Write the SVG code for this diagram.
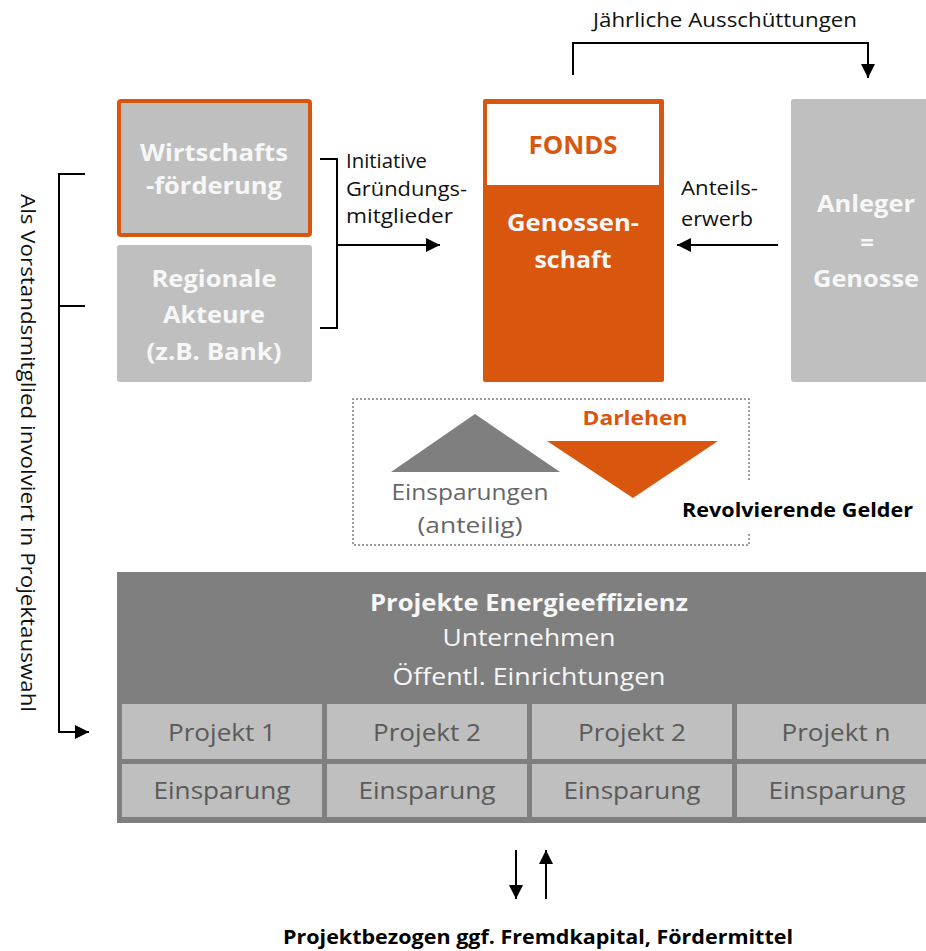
<svg xmlns="http://www.w3.org/2000/svg" width="926" height="951" viewBox="0 0 926 951">
<defs>
<marker id="ah" markerUnits="userSpaceOnUse" markerWidth="15" markerHeight="15" refX="14" refY="7.5" orient="auto">
<path d="M0,0.5 L14,7.5 L0,14.5 z" fill="#000"/>
</marker>
<style>
text{font-family:"Open Sans","Noto Sans","Liberation Sans",sans-serif;}
.b{font-weight:bold;}
.lbl{font-size:20px;fill:#111;}
.box{font-size:24px;font-weight:bold;fill:#f7f7f7;text-anchor:middle;}
.cell{font-size:23px;fill:#5a5a5a;text-anchor:middle;}
.gray{fill:#bfbfbf;}
.con{fill:none;stroke:#000;stroke-width:2;}
</style>
</defs>
<rect width="926" height="951" fill="#fff"/>

<g id="wirtschaft">
<rect x="119" y="101" width="191" height="134" rx="2" fill="#bfbfbf" stroke="#d9560f" stroke-width="4"/>
<text class="box" x="214" y="161" textLength="148" lengthAdjust="spacingAndGlyphs">Wirtschafts</text>
<text class="box" x="214" y="194" textLength="136" lengthAdjust="spacingAndGlyphs">-förderung</text>
</g>

<g id="regional">
<rect x="117" y="245" width="195" height="137" rx="3" class="gray"/>
<text class="box" x="214" y="287" textLength="125" lengthAdjust="spacingAndGlyphs">Regionale</text>
<text class="box" x="214" y="323" textLength="102" lengthAdjust="spacingAndGlyphs">Akteure</text>
<text class="box" x="214" y="360" textLength="135" lengthAdjust="spacingAndGlyphs">(z.B. Bank)</text>
</g>

<g id="fonds">
<rect x="483" y="99" width="181" height="283" rx="2" fill="#d9560f"/>
<rect x="487" y="104" width="172" height="81" fill="#fff"/>
<text x="573" y="154" class="b" font-size="25" fill="#d9560f" text-anchor="middle" textLength="89" lengthAdjust="spacingAndGlyphs">FONDS</text>
<text class="box" x="573" y="231" font-size="25" textLength="132" lengthAdjust="spacingAndGlyphs">Genossen-</text>
<text class="box" x="573" y="268" font-size="25" textLength="77" lengthAdjust="spacingAndGlyphs">schaft</text>
</g>

<g id="anleger">
<rect x="791" y="99" width="150" height="283" rx="3" class="gray"/>
<text class="box" x="866" y="212" textLength="98" lengthAdjust="spacingAndGlyphs">Anleger</text>
<text class="box" x="867" y="251">=</text>
<text class="box" x="866" y="287" textLength="106" lengthAdjust="spacingAndGlyphs">Genosse</text>
</g>

<g id="revolvierend">
<path d="M749,480 V399 H353 V545 H749 V533" fill="none" stroke="#7f7f7f" stroke-width="1.5" stroke-dasharray="2,2"/>
<polygon points="475,414 560,472 391,472" fill="#7f7f7f"/>
<polygon points="547,441 718,441 633,498" fill="#d9560f"/>
<text x="635" y="425" class="b" font-size="20" fill="#d9560f" text-anchor="middle" textLength="105" lengthAdjust="spacingAndGlyphs">Darlehen</text>
<text x="470" y="500" font-size="21" fill="#666" text-anchor="middle" textLength="157" lengthAdjust="spacingAndGlyphs">Einsparungen</text>
<text x="470" y="533" font-size="21" fill="#666" text-anchor="middle" textLength="105" lengthAdjust="spacingAndGlyphs">(anteilig)</text>
<text x="682" y="517" class="b" font-size="20" fill="#000" textLength="231" lengthAdjust="spacingAndGlyphs">Revolvierende Gelder</text>
</g>

<g id="projekte">
<rect x="117" y="572" width="820" height="251" fill="#7f7f7f"/>
<text x="529" y="611" class="box" font-size="23" textLength="318" lengthAdjust="spacingAndGlyphs">Projekte Energieeffizienz</text>
<text x="529" y="646" font-size="23" fill="#f7f7f7" text-anchor="middle" textLength="173" lengthAdjust="spacingAndGlyphs">Unternehmen</text>
<text x="529" y="685" font-size="23" fill="#f7f7f7" text-anchor="middle" textLength="273" lengthAdjust="spacingAndGlyphs">Öffentl. Einrichtungen</text>
<rect x="122" y="704" width="200" height="55" class="gray"/>
<rect x="327" y="704" width="200" height="55" class="gray"/>
<rect x="532" y="704" width="200" height="55" class="gray"/>
<rect x="737" y="704" width="200" height="55" class="gray"/>
<rect x="122" y="764" width="200" height="53" class="gray"/>
<rect x="327" y="764" width="200" height="53" class="gray"/>
<rect x="532" y="764" width="200" height="53" class="gray"/>
<rect x="737" y="764" width="200" height="53" class="gray"/>
<text class="cell" x="222" y="741" textLength="108" lengthAdjust="spacingAndGlyphs">Projekt 1</text>
<text class="cell" x="427" y="741" textLength="108" lengthAdjust="spacingAndGlyphs">Projekt 2</text>
<text class="cell" x="632" y="741" textLength="108" lengthAdjust="spacingAndGlyphs">Projekt 2</text>
<text class="cell" x="836" y="741" textLength="109" lengthAdjust="spacingAndGlyphs">Projekt n</text>
<text class="cell" x="222" y="799" textLength="137" lengthAdjust="spacingAndGlyphs">Einsparung</text>
<text class="cell" x="427" y="799" textLength="137" lengthAdjust="spacingAndGlyphs">Einsparung</text>
<text class="cell" x="632" y="799" textLength="137" lengthAdjust="spacingAndGlyphs">Einsparung</text>
<text class="cell" x="837" y="799" textLength="137" lengthAdjust="spacingAndGlyphs">Einsparung</text>
</g>

<g id="connectors">
<path class="con" d="M85,174 H59 V732 H89" marker-end="url(#ah)"/>
<path class="con" d="M59,306 H85"/>
<path class="con" d="M320,159 H337 V328 H320"/>
<path class="con" d="M337,245 H440" marker-end="url(#ah)"/>
<path class="con" d="M778,245 H677" marker-end="url(#ah)"/>
<path class="con" d="M573,75 V43 H868 V78" marker-end="url(#ah)"/>
<path class="con" d="M516,850 V899" marker-end="url(#ah)"/>
<path class="con" d="M546,899 V850" marker-end="url(#ah)"/>
</g>

<g id="labels">
<text class="lbl" x="725" y="27" text-anchor="middle" textLength="264" lengthAdjust="spacingAndGlyphs">Jährliche Ausschüttungen</text>
<text class="lbl" x="346" y="168" textLength="81" lengthAdjust="spacingAndGlyphs">Initiative</text>
<text class="lbl" x="346" y="196" textLength="121" lengthAdjust="spacingAndGlyphs">Gründungs-</text>
<text class="lbl" x="346" y="223" textLength="107" lengthAdjust="spacingAndGlyphs">mitglieder</text>
<text class="lbl" x="681" y="195" textLength="77" lengthAdjust="spacingAndGlyphs">Anteils-</text>
<text class="lbl" x="681" y="226" textLength="72" lengthAdjust="spacingAndGlyphs">erwerb</text>
<text class="lbl" transform="translate(21,453) rotate(90)" x="0" y="0" font-size="21" fill="#333" text-anchor="middle" textLength="518" lengthAdjust="spacingAndGlyphs">Als Vorstandsmitglied involviert in Projektauswahl</text>
<text x="538" y="944" class="b" font-size="20" fill="#000" text-anchor="middle" textLength="510" lengthAdjust="spacingAndGlyphs">Projektbezogen ggf. Fremdkapital, Fördermittel</text>
</g>
</svg>
